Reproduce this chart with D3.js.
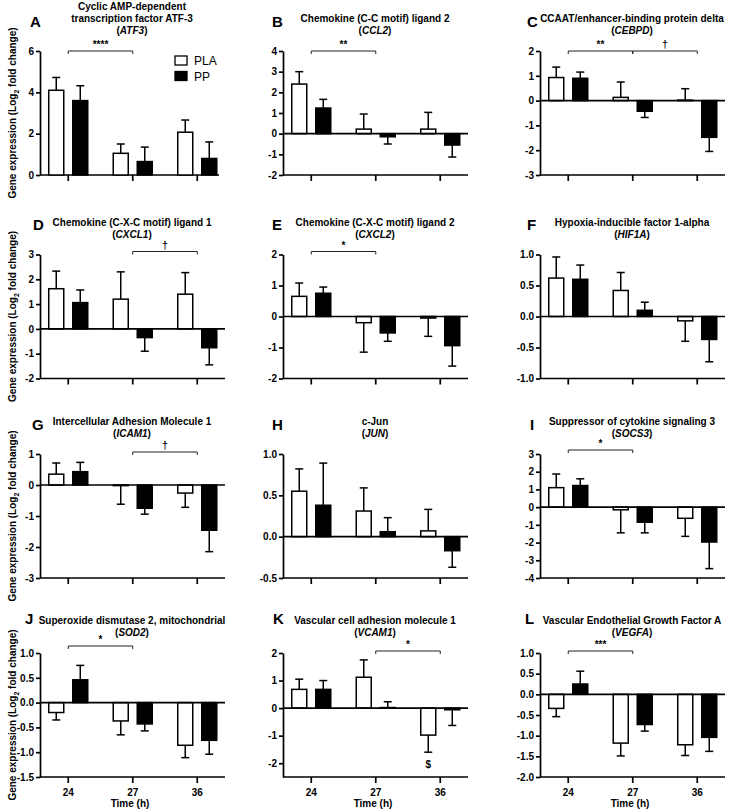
<!DOCTYPE html>
<html><head><meta charset="utf-8">
<script src="https://cdn.jsdelivr.net/npm/d3@7"></script>
<style>
body{margin:0;background:#fff;}
svg text{font-family:Arial,"Liberation Sans",Helvetica,sans-serif;}
</style></head>
<body><svg id="chart" width="730" height="812"></svg>
<script>
// ---------- data ----------
const times = ["24", "27", "36"];
const seriesNames = ["PLA", "PP"];
const panelLetters = ["A","B","C","D","E","F","G","H","I","J","K","L"];
const titleLines = [
  ["Cyclic AMP-dependent", "transcription factor ATF-3"],
  ["Chemokine (C-C motif) ligand 2"],
  ["CCAAT/enhancer-binding protein delta"],
  ["Chemokine (C-X-C motif) ligand 1"],
  ["Chemokine (C-X-C motif) ligand 2"],
  ["Hypoxia-inducible factor 1-alpha"],
  ["Intercellular Adhesion Molecule 1"],
  ["c-Jun"],
  ["Suppressor of cytokine signaling 3"],
  ["Superoxide dismutase 2, mitochondrial"],
  ["Vascular cell adhesion molecule 1"],
  ["Vascular Endothelial Growth Factor A"]
];
const geneSymbols = ["ATF3","CCL2","CEBPD","CXCL1","CXCL2","HIF1A","ICAM1","JUN","SOCS3","SOD2","VCAM1","VEGFA"];
// means (log2 fold change) at 24, 27, 36 h
const plaMean = [
  [4.1, 1.05, 2.07], [2.4, 0.22, 0.22], [0.93, 0.13, 0.02], [1.62, 1.2, 1.4],
  [0.65, -0.2, -0.05], [0.62, 0.42, -0.07], [0.35, -0.02, -0.26], [0.55, 0.31, 0.07],
  [1.1, -0.15, -0.63], [-0.2, -0.37, -0.86], [0.68, 1.12, -0.98], [-0.34, -1.18, -1.22]
];
const plaSem = [
  [0.62, 0.45, 0.59], [0.6, 0.73, 0.81], [0.42, 0.62, 0.46], [0.71, 1.1, 0.87],
  [0.43, 0.95, 0.59], [0.34, 0.29, 0.33], [0.36, 0.6, 0.46], [0.27, 0.28, 0.26],
  [0.77, 1.3, 1.02], [0.15, 0.28, 0.25], [0.37, 0.63, 0.62], [0.2, 0.31, 0.26]
];
const ppMean = [
  [3.6, 0.65, 0.8], [1.24, -0.15, -0.55], [0.9, -0.43, -1.48], [1.06, -0.35, -0.76],
  [0.75, -0.53, -0.94], [0.6, 0.1, -0.37], [0.43, -0.75, -1.46], [0.38, 0.06, -0.17],
  [1.22, -0.85, -1.97], [0.46, -0.43, -0.76], [0.68, 0.02, -0.06], [0.25, -0.73, -1.04]
];
const ppSem = [
  [0.72, 0.7, 0.8], [0.42, 0.35, 0.58], [0.25, 0.25, 0.57], [0.51, 0.55, 0.69],
  [0.2, 0.27, 0.66], [0.23, 0.13, 0.36], [0.3, 0.19, 0.69], [0.51, 0.17, 0.2],
  [0.38, 0.6, 1.5], [0.29, 0.14, 0.28], [0.32, 0.21, 0.57], [0.31, 0.16, 0.34]
];
const yDomains = [[0,6],[-2,4],[-3,2],[-2,3],[-2,2],[-1,1],[-3,1],[-0.5,1],[-4,3],[-1.5,1],[-2.5,2],[-2,1]];
const yTickValues = [
  [0,2,4,6], [-2,-1,0,1,2,3,4], [-3,-2,-1,0,1,2], [-2,-1,0,1,2,3], [-2,-1,0,1,2],
  [-1,-0.5,0,0.5,1], [-3,-2,-1,0,1], [-0.5,0,0.5,1], [-4,-3,-2,-1,0,1,2,3],
  [-1.5,-1,-0.5,0,0.5,1], [-2,-1,0,1,2], [-2,-1.5,-1,-0.5,0,0.5,1]
];
const yTickDecimals = [0,0,0,0,0,1,0,1,0,1,0,1];
const sigPanel = [0, 1, 2, 2, 3, 4, 6, 8, 9, 10, 11];
const sigFrom  = ["24","24","24","27","27","24","27","24","24","27","24"];
const sigTo    = ["27","27","27","36","36","27","36","27","27","36","27"];
const sigLabel = ["****","**","**","\u2020","\u2020","*","\u2020","*","*","*","***"];
const xTitle = "Time (h)";
const yTitle = "Gene expression (Log";

// ---------- layout ----------
const colX = [40, 283, 540];
const rowTop = [51, 254.5, 454, 653];
const plotH = 124;
const axisLen = [179, 185, 185, 185, 185, 185, 185, 185, 185, 185, 185, 185];
const step = 64.5;
const bracketRaise = [0, 0, 0, 3, 3, 0, 2, 0, 4, 7, 2, 2];
const letterDx = [-10, -11, -13, -7, -11, -13, -8, -11, -10, -15, -10, -15];

const svg = d3.select("#chart");
const black = "#000";

panelLetters.forEach((letter, p) => {
  const col = p % 3, row = Math.floor(p / 3);
  const ax = colX[col], top = rowTop[row], bottom = top + plotH;
  const g = svg.append("g");

  const x0 = d3.scaleBand().domain(times)
    .range([ax + 28.25 - step / 2, ax + 28.25 - step / 2 + 3 * step])
    .paddingInner(0.395).paddingOuter(0.395 / 2);
  const x1 = d3.scaleBand().domain(seriesNames).range([0, x0.bandwidth()]).paddingInner(0.375);
  const y = d3.scaleLinear().domain(yDomains[p]).range([bottom, top]);
  const cx = t => x0(t) + x0.bandwidth() / 2;

  // y axis
  const yAxis = d3.axisLeft(y).tickValues(yTickValues[p]).tickSize(4).tickSizeOuter(0)
    .tickFormat(d3.format("." + yTickDecimals[p] + "f"));
  const ya = g.append("g").attr("transform", `translate(${ax},0)`).call(yAxis);
  ya.selectAll("path,line").attr("stroke", black).attr("stroke-width", 1.7);
  ya.selectAll("text").attr("font-size", 10).attr("font-weight", "bold").attr("fill", black).attr("x", -6)
    .text(function(){ return d3.select(this).text().replace("\u2212", "-"); });

  // bottom axis
  const xAxis = d3.axisBottom(x0).tickSize(6).tickSizeOuter(0).tickFormat(row === 3 ? (d => d) : () => "");
  const xa = g.append("g").attr("transform", `translate(0,${bottom})`).call(xAxis);
  xa.select(".domain").remove();
  xa.selectAll("line").attr("stroke", black).attr("stroke-width", 1.7);
  xa.selectAll("text").attr("font-size", 10).attr("font-weight", "bold").attr("fill", black).attr("dy", "0.95em");
  g.append("line").attr("x1", ax).attr("x2", ax + axisLen[p]).attr("y1", bottom).attr("y2", bottom)
    .attr("stroke", black).attr("stroke-width", 1.7);

  // bars
  const series = [
    {name: "PLA", mean: plaMean[p], sem: plaSem[p], fill: "#fff"},
    {name: "PP", mean: ppMean[p], sem: ppSem[p], fill: black}
  ];
  series.forEach(s => {
    times.forEach((t, i) => {
      const v = s.mean[i], e = s.sem[i];
      const bx = x0(t) + x1(s.name), bw = x1.bandwidth(), bc = bx + bw / 2;
      const end = v >= 0 ? v + e : v - e;
      g.append("line").attr("x1", bc).attr("x2", bc).attr("y1", y(v)).attr("y2", y(end))
        .attr("stroke", black).attr("stroke-width", 1.5);
      g.append("line").attr("x1", bc - 4).attr("x2", bc + 4).attr("y1", y(end)).attr("y2", y(end))
        .attr("stroke", black).attr("stroke-width", 1.5);
      g.append("rect").attr("x", bx).attr("width", bw)
        .attr("y", Math.min(y(0), y(v))).attr("height", Math.abs(y(v) - y(0)))
        .attr("fill", s.fill).attr("stroke", black).attr("stroke-width", 1.5);
    });
  });

  // zero line
  if (yDomains[p][0] < 0) {
    g.append("line").attr("x1", ax).attr("x2", ax + axisLen[p]).attr("y1", y(0)).attr("y2", y(0))
      .attr("stroke", black).attr("stroke-width", 1.7);
  }

  // title
  const lines = titleLines[p];
  const cxTitle = ax + 92;
  const lastBase = top - 17;
  const title = g.append("text").attr("text-anchor", "middle").attr("font-size", 10).attr("font-weight", "bold").attr("fill", black);
  lines.forEach((ln, k) => {
    title.append("tspan").attr("x", cxTitle).attr("y", lastBase - 12 * (lines.length - k)).text(ln);
  });
  const gl = g.append("text").attr("text-anchor", "middle").attr("font-size", 10).attr("font-weight", "bold")
    .attr("fill", black).attr("x", cxTitle).attr("y", lastBase);
  gl.append("tspan").text("(");
  gl.append("tspan").attr("font-style", "italic").text(geneSymbols[p]);
  gl.append("tspan").text(")");

  // panel letter
  g.append("text").attr("x", ax + letterDx[p]).attr("y", top - (row === 3 ? 29 : 24.5))
    .attr("font-size", 15).attr("font-weight", "bold").attr("fill", black).text(letter);

  // y title
  if (col === 0) {
    const yt = g.append("text").attr("transform", `translate(16,${(top + bottom) / 2}) rotate(-90)`)
      .attr("text-anchor", "middle").attr("font-size", 10).attr("font-weight", "bold").attr("fill", black);
    yt.append("tspan").text(yTitle);
    yt.append("tspan").attr("font-size", 7).attr("dy", 3).text("2");
    yt.append("tspan").attr("dy", -3).text(" fold change)");
  }
  // x title
  if (row === 3) {
    g.append("text").attr("x", ax + 90).attr("y", bottom + 30).attr("text-anchor", "middle")
      .attr("font-size", 10).attr("font-weight", "bold").attr("fill", black).text(xTitle);
  }

  // significance brackets
  sigPanel.forEach((sp, k) => {
    if (sp !== p) return;
    const bx1 = cx(sigFrom[k]), bx2 = cx(sigTo[k]);
    const by = top - bracketRaise[p];
    g.append("path").attr("d", `M${bx1},${by + 3}V${by}H${bx2}V${by + 3}`)
      .attr("fill", "none").attr("stroke", "#222").attr("stroke-width", 1);
    g.append("text").attr("x", (bx1 + bx2) / 2).attr("y", by - 3).attr("text-anchor", "middle")
      .attr("font-size", 10).attr("font-weight", "bold").attr("fill", black).text(sigLabel[k]);
  });

  // legend (panel A)
  if (p === 0) {
    seriesNames.forEach((n, k) => {
      g.append("rect").attr("x", 175).attr("y", 56 + 15.5 * k).attr("width", 12).attr("height", 9)
        .attr("fill", k === 0 ? "#fff" : black).attr("stroke", black).attr("stroke-width", 1.3);
      g.append("text").attr("x", 194).attr("y", 65 + 15.5 * k).attr("font-size", 12).attr("fill", black).text(n);
    });
  }
  // "$" annotation in panel K (PLA at 36 h)
  if (p === 10) {
    const i = 2, v = plaMean[p][i], e = plaSem[p][i];
    g.append("text").attr("x", x0("36") + x1("PLA") + x1.bandwidth() / 2).attr("y", y(v - e) + 16)
      .attr("text-anchor", "middle").attr("font-size", 10).attr("font-weight", "bold").attr("fill", black).text("$");
  }
});
</script></body></html>
